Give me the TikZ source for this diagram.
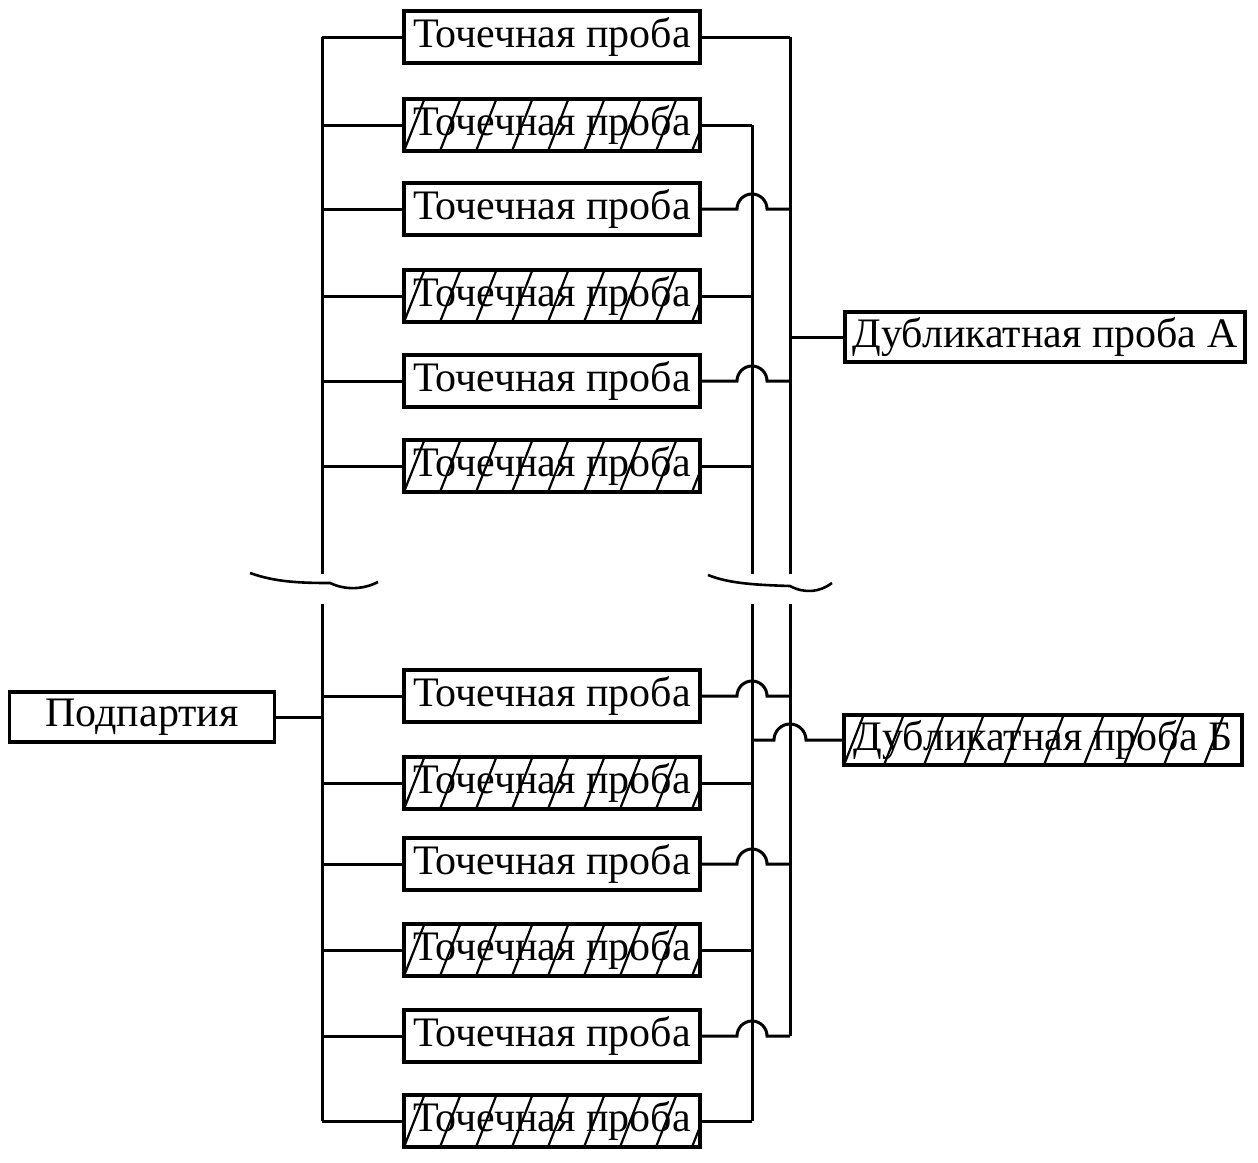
\documentclass[tikz,border=0pt]{standalone}
\usepackage{fontspec}
\setmainfont{Liberation Serif}
\begin{document}
\begin{tikzpicture}[x=1pt,y=-1pt,
  conn/.style={line width=3pt},
  boxbase/.style={draw,line width=3.6pt,inner sep=0pt,minimum height=52pt,font=\fontsize{42}{48}\selectfont},
  sample/.style={boxbase,minimum width=296pt},
  hatched/.style={path picture={
     \foreach \k in {-2,...,12}
       \draw[line width=2.2pt] ([xshift=\k*36pt]path picture bounding box.south west) -- ++(22pt,56pt);}},
  hatchedwide/.style={path picture={
     \foreach \k in {-2,...,12}
       \draw[line width=2.2pt] ([xshift=\k*40pt]path picture bounding box.south west) -- ++(22pt,56pt);}},
  brk/.style={line width=2.6pt}
]
\useasboundingbox (0,0) rectangle (1258,1162);

% sample boxes
\node[sample] (t1) at (552,37) {Точечная проба};
\node[sample,hatched] (t2) at (552,125) {Точечная проба};
\node[sample] (t3) at (552,209) {Точечная проба};
\node[sample,hatched] (t4) at (552,296) {Точечная проба};
\node[sample] (t5) at (552,381) {Точечная проба};
\node[sample,hatched] (t6) at (552,466) {Точечная проба};
\node[sample] (b1) at (552,696) {Точечная проба};
\node[sample,hatched] (b2) at (552,783) {Точечная проба};
\node[sample] (b3) at (552,864) {Точечная проба};
\node[sample,hatched] (b4) at (552,950) {Точечная проба};
\node[sample] (b5) at (552,1036) {Точечная проба};
\node[sample,hatched] (b6) at (552,1121) {Точечная проба};

\node[boxbase,minimum width=265pt,minimum height=50pt] (sub) at (142,717) {Подпартия};
\node[boxbase,minimum width=400pt,minimum height=50pt] (dupA) at (1045,337) {Дубликатная проба А};
\node[boxbase,hatchedwide,minimum width=398pt,minimum height=50pt] (dupB) at (1043,740) {Дубликатная проба Б};

% bus positions
\coordinate (Lx) at (322,0);
\coordinate (Bx) at (752,0);
\coordinate (Ax) at (790,0);
\coordinate (k1) at (0,574);
\coordinate (k2) at (0,604);

% left bus
\draw[conn] (t1.west -| Lx) -- (Lx |- k1);
\draw[conn] (Lx |- k2) -- (b6.west -| Lx);
\foreach \n in {t1,t2,t3,t4,t5,t6,b1,b2,b3,b4,b5,b6}
  \draw[conn] (\n.west) -- (\n.west -| Lx);
\draw[conn] (sub.east) -- (sub.east -| Lx);

% B bus (hatched samples)
\draw[conn] (t2.east -| Bx) -- (Bx |- k1);
\draw[conn] (Bx |- k2) -- (b6.east -| Bx);
\foreach \n in {t2,t4,t6,b2,b4,b6}
  \draw[conn] (\n.east) -- (\n.east -| Bx);

% A bus (plain samples)
\draw[conn] (t1.east -| Ax) -- (Ax |- k1);
\draw[conn] (Ax |- k2) -- (b5.east -| Ax);
\draw[conn] (t1.east) -- (t1.east -| Ax);
\foreach \n in {t3,t5,b1,b3,b5}
  \draw[conn] (\n.east) -- ([xshift=-15pt]\n.east -| Bx) arc[start angle=180,end angle=0,radius=15pt] -- (\n.east -| Ax);

% duplicate connections
\draw[conn] (dupA.west -| Ax) -- (dupA.west);
\draw[conn] (dupB.west -| Bx) -- ([xshift=-16pt]dupB.west -| Ax) arc[start angle=180,end angle=0,radius=16pt] -- (dupB.west);

% break marks
\draw[brk] (250,573) .. controls (275,582) and (300,583) .. (330,583) .. controls (345,590) and (362,590) .. (378,582);
\draw[brk] (708,575) .. controls (730,584) and (760,585) .. (790,586) .. controls (805,594) and (820,592) .. (832,583);
\end{tikzpicture}
\end{document}
